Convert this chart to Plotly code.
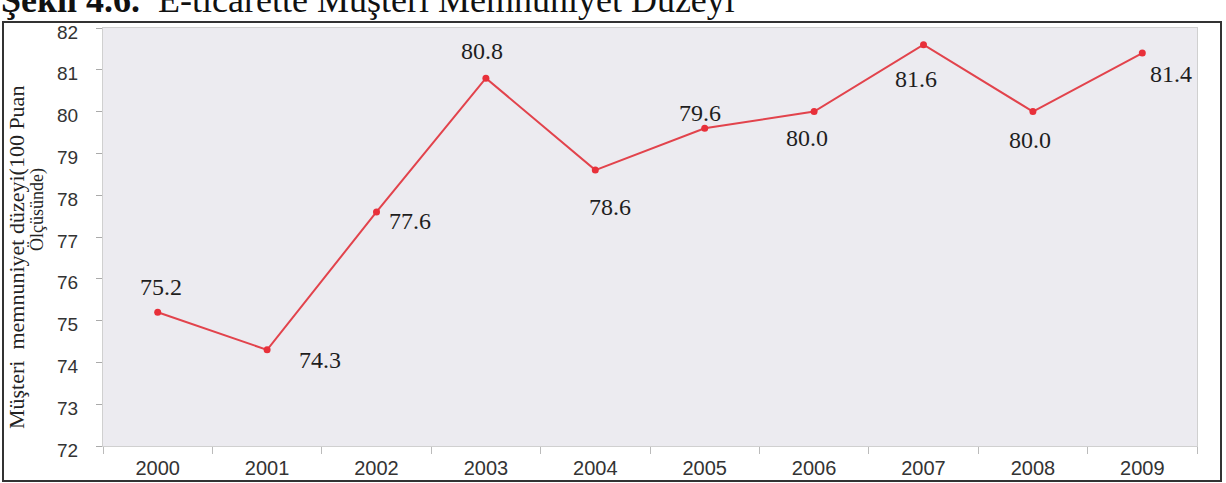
import plotly.graph_objects as go

years = ["2000", "2001", "2002", "2003", "2004", "2005", "2006", "2007", "2008", "2009"]
satisfaction = [75.2, 74.3, 77.6, 80.8, 78.6, 79.6, 80.0, 81.6, 80.0, 81.4]
value_labels = ["75.2", "74.3", "77.6", "80.8", "78.6", "79.6", "80.0", "81.6", "80.0", "81.4"]
y_ticks = [72, 73, 74, 75, 76, 77, 78, 79, 80, 81, 82]

# label offsets (pixels) relative to each point
label_shift_x = [3, 53, 33, -4, 15, -5, -7, -8, -3, 29]
label_shift_y = [25, -10, -9, 27, -37, 15, -26, -34, -28, -21]

W, H = 1226, 483
L, R, T, B = 103, 29, 28, 37
pw, ph = W - L - R, H - T - B

def px(x):
    return (x - L) / pw

def py(y):
    return (H - B - y) / ph

SERIF = "Liberation Serif, Times New Roman, serif"
SANS = "Arial, Liberation Sans, sans-serif"

fig = go.Figure()
fig.add_trace(go.Scatter(
    x=years, y=satisfaction, mode="lines+markers",
    line=dict(color="#E2434C", width=2),
    marker=dict(color="#E8303A", size=7),
    showlegend=False, hoverinfo="x+y",
))

annotations = []
for i, (v, lab, sx, sy) in enumerate(zip(satisfaction, value_labels, label_shift_x, label_shift_y)):
    annotations.append(dict(
        x=i, y=v, xref="x", yref="y", text=lab, showarrow=False,
        xshift=sx, yshift=sy,
        font=dict(family=SERIF, size=24, color="#1E1E1E"),
    ))

# title (cut at top as in the reference)
annotations.append(dict(
    x=px(-1), y=py(22), xref="paper", yref="paper", xanchor="left", yanchor="bottom",
    text="<b>Şekil 4.6.</b>  E-ticarette Müşteri Memnuniyet Düzeyi", showarrow=False,
    font=dict(family=SERIF, size=36, color="#111111"),
))
# y-axis title, two lines
annotations.append(dict(
    x=px(16), y=py(258), xref="paper", yref="paper", xanchor="center", yanchor="middle",
    text="Müşteri  memnuniyet düzeyi(100 Puan", textangle=-90, showarrow=False,
    font=dict(family=SERIF, size=22, color="#222222"),
))
annotations.append(dict(
    x=px(37), y=py(210), xref="paper", yref="paper", xanchor="center", yanchor="middle",
    text="Ölçüsünde)", textangle=-90, showarrow=False,
    font=dict(family=SERIF, size=18, color="#222222"),
))

shapes = [dict(
    type="rect", xref="paper", yref="paper",
    x0=px(3), x1=px(1221), y0=py(481), y1=py(22),
    line=dict(color="#333333", width=2), fillcolor="rgba(0,0,0,0)", layer="above",
)]

fig.update_layout(
    width=W, height=H,
    margin=dict(l=L, r=R, t=T, b=B),
    paper_bgcolor="white",
    plot_bgcolor="#ECEBF0",
    annotations=annotations,
    shapes=shapes,
    xaxis=dict(
        type="category", range=[-0.5, len(years) - 0.5], tickson="boundaries",
        ticks="outside", ticklen=7, ticklabelstandoff=4, automargin=False,
        tickcolor="#BBBBBB", showgrid=False, showline=True, linecolor="#D0D0D0",
        linewidth=1, mirror=True, zeroline=False,
        tickfont=dict(family=SANS, size=20, color="#333333"),
    ),
    yaxis=dict(
        range=[72, 82], tickvals=y_ticks, ticks="outside", ticklen=6,
        tickcolor="#AAAAAA", showgrid=False, showline=True, linecolor="#D0D0D0",
        linewidth=1, mirror=True, zeroline=False, ticklabelstandoff=14,
        ticklabelshift=4, automargin=False,
        tickfont=dict(family=SANS, size=19, color="#333333"),
    ),
)

fig.write_html("out.html")
